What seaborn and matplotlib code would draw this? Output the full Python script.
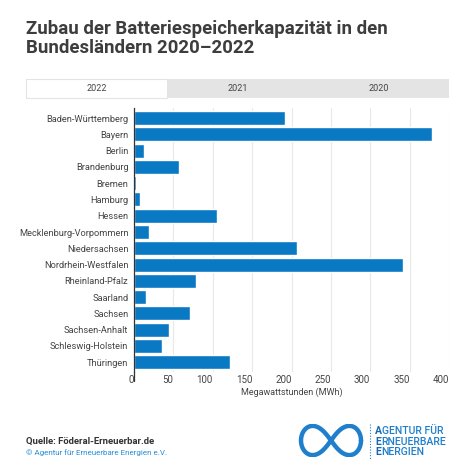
import numpy as np
import pandas as pd
import seaborn as sns
import matplotlib.pyplot as plt
from matplotlib.patches import Rectangle

# data (2022, MWh)
laender = ["Baden-Württemberg", "Bayern", "Berlin", "Brandenburg", "Bremen",
           "Hamburg", "Hessen", "Mecklenburg-Vorpommern", "Niedersachsen",
           "Nordrhein-Westfalen", "Rheinland-Pfalz", "Saarland", "Sachsen",
           "Sachsen-Anhalt", "Schleswig-Holstein", "Thüringen"]
zubau_mwh = [192, 379, 13, 57, 3, 8, 105, 19, 207, 341, 79, 15, 71, 44, 35, 122]
tab_labels = ["2022", "2021", "2020"]
x_ticks = [0, 50, 100, 150, 200, 250, 300, 350, 400]

df = pd.DataFrame({"land": laender, "mwh": zubau_mwh})

sns.set_theme(style="white")
plt.rcParams["font.family"] = ["Roboto", "DejaVu Sans"]

BLUE = "#0a79c3"
TXT = "#444444"
W, H = 474, 474

fig = plt.figure(figsize=(4.74, 4.74), dpi=100)
fig.patch.set_facecolor("white")

def fx(px):
    return px / W

def fy(py):
    return 1 - py / H

# title
fig.text(fx(26), fy(20), "Zubau der Batteriespeicherkapazität in den\nBundesländern 2020–2022",
         fontsize=13.4, fontweight="bold", color="#3d3d3d", va="top", ha="left",
         linespacing=1.1)

# tabs
x0, x1 = 26, 449
tw = (x1 - x0) / 3
for i, lab in enumerate(tab_labels):
    face = "white" if i == 0 else "#e4e4e4"
    fig.patches.append(Rectangle((fx(x0 + i * tw), fy(98)), fx(tw), 19 / H,
                                 transform=fig.transFigure, facecolor=face,
                                 edgecolor="#e4e4e4" if i == 0 else "none", lw=0.8))
    fig.text(fx(x0 + (i + 0.5) * tw), fy(88.5), lab, fontsize=6.5, color=TXT,
             ha="center", va="center")

# axes
ax = fig.add_axes([fx(134), fy(372), fx(449 - 134), (372 - 108) / H])
sns.barplot(data=df, x="mwh", y="land", color=BLUE, orient="h", width=0.86,
            saturation=1, ax=ax)
ax.set_xlim(0, 400)
ax.set_ylim(15.6, -0.62)
ax.set_xticks(x_ticks)
ax.set_xticklabels([str(t) for t in x_ticks], ha="right")
ax.grid(axis="x", color="#e8e8e8", lw=0.8)
ax.set_axisbelow(True)
for s in ["top", "right", "bottom"]:
    ax.spines[s].set_visible(False)
ax.spines["left"].set_color("#333333")
ax.spines["left"].set_linewidth(0.9)
ax.axvline(0, ymin=-0.035, ymax=0, color="#333333", lw=0.9, clip_on=False)
ax.tick_params(axis="both", length=0, labelsize=7, colors=TXT)
ax.tick_params(axis="y", labelsize=6.7, pad=4)
ax.tick_params(axis="x", pad=2)
ax.set_ylabel("")
ax.set_xlabel("Megawattstunden (MWh)", fontsize=6.5, color=TXT, labelpad=2)

# footer
fig.text(fx(26), fy(441), "Quelle: Föderal-Erneuerbar.de", fontsize=6.8,
         fontweight="bold", color="#333333", va="center")
fig.text(fx(26), fy(452.5), "© Agentur für Erneuerbare Energien e.V.", fontsize=5.8,
         color="#2a8fd4", va="center")

# logo: infinity loop + wordmark
lax = fig.add_axes([fx(298), fy(457), fx(66), 33 / H])
t = np.linspace(0, 2 * np.pi, 400)
lx = np.cos(t) / (1 + np.sin(t) ** 2)
ly = np.sin(t) * np.cos(t) / (1 + np.sin(t) ** 2)
lax.plot(lx, ly * 1.55, color="#1f7fcc", lw=3.2, solid_capstyle="round")
lax.set_xlim(-1.1, 1.1)
lax.set_ylim(-0.62, 0.62)
lax.axis("off")
fig.add_artist(plt.Line2D([fx(370), fx(370)], [fy(424), fy(459)], color="#1f7fcc",
                          lw=0.8, ls=(0, (1, 1.5)), transform=fig.transFigure))
for i, word in enumerate(["AGENTUR FÜR", "ERNEUERBARE", "ENERGIEN"]):
    y = fy(431 + i * 10.7)
    first = fig.text(fx(375), y, word[0], fontsize=7.6, fontweight="bold",
                     color="#1769b3", va="center", ha="left")
    fig.canvas.draw()
    bb = first.get_window_extent()
    fig.text(bb.x1 / W, y, word[1:], fontsize=7.6, fontweight="medium",
             color="#1f7fcc", va="center", ha="left")

fig.savefig("out.png", dpi=100, facecolor="white")
